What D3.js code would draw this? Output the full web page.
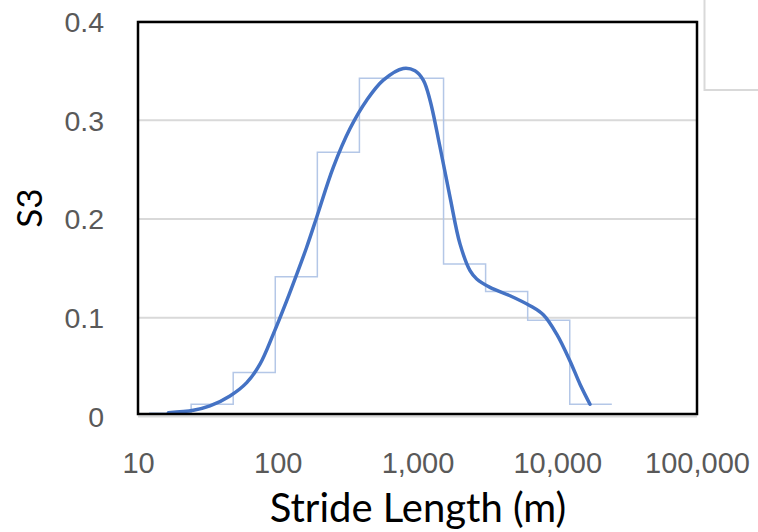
<!DOCTYPE html>
<html>
<head>
<meta charset="utf-8">
<script src="https://cdn.jsdelivr.net/npm/d3@7"></script>
<style>
    body { margin: 0; background: #fff; }
    svg { display: block; font-family: Lato, "Liberation Sans", sans-serif; }
</style>
</head>
<body>
<div id="chart"></div>
<script>
// histogram bins: lower edges (m) and their share, last edge closes the final bin
const binEdges = [12, 24, 48, 96, 192, 384, 768, 1536, 3072, 6144, 12288, 24576];
const binValues = [0.003, 0.012, 0.044, 0.141, 0.267, 0.342, 0.342, 0.154, 0.126, 0.097, 0.012];

// smoothed density curve
const curveX = [16.5, 24.9, 32.7, 45.5, 60, 74.6, 92.9, 116, 137, 161, 190, 250, 329, 433, 569, 791, 960, 1100, 1229, 1449, 1709, 2014, 2376, 2653, 3302, 4592, 6383, 7948, 9909, 12335, 14550, 17150];
const curveY = [0.0034, 0.0058, 0.0102, 0.0203, 0.0338, 0.0525, 0.0829, 0.1168, 0.1438, 0.1709, 0.2013, 0.252, 0.2911, 0.3198, 0.3401, 0.352, 0.3496, 0.3401, 0.3198, 0.2724, 0.2217, 0.1743, 0.1472, 0.1388, 0.1303, 0.1218, 0.1117, 0.1025, 0.0829, 0.0558, 0.0322, 0.0119];

const xTicks = [10, 100, 1000, 10000, 100000];
const yTicks = [0, 0.1, 0.2, 0.3, 0.4];

const width = 758, height = 532;
const margin = { left: 138, right: 61, top: 21, bottom: 117 };

let svg = d3.select('#chart')
    .append('svg')
    .attr('width', width)
    .attr('height', height);

// scales
let xScale = d3.scaleLog()
    .domain([10, 100000])
    .range([margin.left, width - margin.right]);

let yScale = d3.scaleLinear()
    .domain([0, 0.4])
    .range([height - margin.bottom + 1, margin.top]);

// leftover legend box in the top right corner
svg.append('rect')
    .attr('x', 704.5)
    .attr('y', -10)
    .attr('width', 80)
    .attr('height', 100)
    .attr('fill', 'none')
    .attr('stroke', '#d9d9d9')
    .attr('stroke-width', 2);

// gridlines + y tick labels
let yAxis = d3.axisLeft(yScale)
    .tickValues(yTicks)
    .tickSize(-(width - margin.left - margin.right))
    .tickFormat(d => d === 0 ? '0' : d3.format('.1f')(d));

svg.append('g')
    .attr('transform', `translate(${margin.left}, 0)`)
    .call(yAxis)
    .call(g => g.select('.domain').remove())
    .call(g => g.selectAll('line').attr('stroke', '#d9d9d9').attr('stroke-width', 2))
    .call(g => g.selectAll('text')
        .attr('x', -34)
        .attr('dy', '0.36em')
        .attr('fill', '#595959')
        .attr('font-size', '28.5px'));

let xAxis = d3.axisBottom(xScale)
    .tickValues(xTicks)
    .tickSize(0)
    .tickFormat(d3.format(','));

svg.append('g')
    .attr('transform', `translate(0, ${height - margin.bottom})`)
    .call(xAxis)
    .call(g => g.select('.domain').remove())
    .call(g => g.selectAll('text')
        .attr('y', 48)
        .attr('dy', '0.36em')
        .attr('fill', '#595959')
        .attr('font-size', '29px'));

// histogram drawn as a step outline
let steps = binValues.map((v, i) => ({ x: binEdges[i], y: v }));
steps.push({ x: binEdges[binEdges.length - 1], y: binValues[binValues.length - 1] });

let stepLine = d3.line()
    .x(d => xScale(d.x))
    .y(d => yScale(d.y))
    .curve(d3.curveStepAfter);

svg.append('path')
    .datum(steps)
    .attr('d', stepLine)
    .attr('fill', 'none')
    .attr('stroke', '#b4c7e7')
    .attr('stroke-width', 1.5);

// smooth curve
let curvePoints = curveX.map((x, i) => ({ x: x, y: curveY[i] }));

let smoothLine = d3.line()
    .x(d => xScale(d.x))
    .y(d => yScale(d.y))
    .curve(d3.curveCatmullRom.alpha(0.5));

svg.append('path')
    .datum(curvePoints)
    .attr('d', smoothLine)
    .attr('fill', 'none')
    .attr('stroke', '#4472c4')
    .attr('stroke-width', 3.5)
    .attr('stroke-linecap', 'round')
    .attr('stroke-linejoin', 'round');

// plot frame
svg.append('rect')
    .attr('x', margin.left)
    .attr('y', margin.top + 1)
    .attr('width', width - margin.left - margin.right)
    .attr('height', height - margin.top - margin.bottom - 2)
    .attr('fill', 'none')
    .attr('stroke', '#000')
    .attr('stroke-width', 2.5);

// axis titles
svg.append('text')
    .attr('x', 418)
    .attr('y', 522)
    .attr('text-anchor', 'middle')
    .attr('font-size', '40px')
    .attr('fill', '#000')
    .text('Stride Length (m)');

svg.append('text')
    .attr('transform', 'translate(42, 208) rotate(-90)')
    .attr('text-anchor', 'middle')
    .attr('font-size', '35px')
    .attr('fill', '#000')
    .text('S3');
</script>
</body>
</html>
